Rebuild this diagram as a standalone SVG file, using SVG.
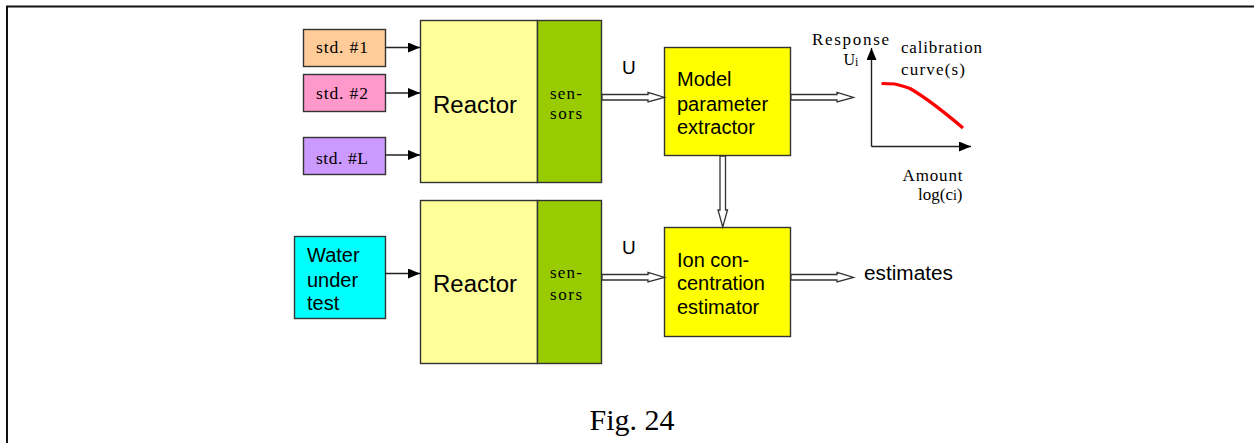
<svg xmlns="http://www.w3.org/2000/svg" width="1254" height="443" viewBox="0 0 1254 443">
<style>
.box{stroke:#333;stroke-width:1.4}
.sans{font-family:"Liberation Sans",Arial,sans-serif;fill:#000}
.serif{font-family:"Liberation Serif","Times New Roman",serif;fill:#000}
.thin{stroke:#222;stroke-width:1.4;fill:none}
.hollow{fill:#fff;stroke:#333;stroke-width:1.3;stroke-linejoin:miter}
</style>
<defs>
<marker id="ah" markerWidth="12" markerHeight="10" refX="12" refY="5" orient="auto" markerUnits="userSpaceOnUse">
<path d="M0,0 L12,5 L0,10 Z" fill="#000"/>
</marker>
</defs>
<rect width="1254" height="443" fill="#fff"/>
<path d="M7,443 V6.5 H1254" fill="none" stroke="#111" stroke-width="2"/>

<g id="std1"><rect class="box" x="303.5" y="29.5" width="82" height="37" fill="#FFCC99"/><text class="serif" x="316" y="53" font-size="17.5" textLength="52" lengthAdjust="spacing">std. #1</text></g>
<g id="std2"><rect class="box" x="303.5" y="74.5" width="82" height="37" fill="#FF99CC"/><text class="serif" x="316" y="98.5" font-size="17.5" textLength="52" lengthAdjust="spacing">std. #2</text></g>
<g id="stdL"><rect class="box" x="303.5" y="137.5" width="82" height="37" fill="#CC99FF"/><text class="serif" x="316" y="163.5" font-size="17.5" textLength="52" lengthAdjust="spacing">std. #L</text></g>

<g id="reactor1"><rect class="box" x="420.5" y="20.5" width="117" height="162" fill="#FFFF99"/><text class="sans" x="433" y="112.5" font-size="23.5" textLength="84" lengthAdjust="spacingAndGlyphs">Reactor</text></g>
<g id="sensors1"><rect class="box" x="537.5" y="20.5" width="64" height="162" fill="#99CC00"/><text class="serif" x="550" y="99" font-size="17" textLength="32" lengthAdjust="spacing">sen-</text><text class="serif" x="550" y="119" font-size="17" textLength="32" lengthAdjust="spacing">sors</text></g>

<g id="water"><rect class="box" x="294.5" y="236.5" width="91" height="82" fill="#00FFFF"/><text class="sans" font-size="20"><tspan x="307" y="261.5">Water</tspan><tspan x="307" y="286.5">under</tspan><tspan x="307" y="310">test</tspan></text></g>

<g id="reactor2"><rect class="box" x="420.5" y="200.5" width="117" height="163" fill="#FFFF99"/><text class="sans" x="433" y="292" font-size="23.5" textLength="84" lengthAdjust="spacingAndGlyphs">Reactor</text></g>
<g id="sensors2"><rect class="box" x="537.5" y="200.5" width="64" height="163" fill="#99CC00"/><text class="serif" x="550" y="277.5" font-size="17" textLength="32" lengthAdjust="spacing">sen-</text><text class="serif" x="550" y="300" font-size="17" textLength="32" lengthAdjust="spacing">sors</text></g>

<g id="model"><rect class="box" x="664.5" y="47.5" width="126" height="108" fill="#FFFF00"/><text class="sans" font-size="20"><tspan x="677" y="85.5">Model</tspan><tspan x="677" y="110.5">parameter</tspan><tspan x="677" y="134">extractor</tspan></text></g>

<g id="ion"><rect class="box" x="664.5" y="227.5" width="126" height="109" fill="#FFFF00"/><text class="sans" font-size="20"><tspan x="677" y="266.5">Ion con-</tspan><tspan x="677" y="290">centration</tspan><tspan x="677" y="313.5">estimator</tspan></text></g>

<g id="labels">
<text class="sans" x="622" y="73.5" font-size="19">U</text>
<text class="sans" x="622" y="253.5" font-size="19">U</text>
<text class="sans" x="864" y="280" font-size="20" textLength="89" lengthAdjust="spacingAndGlyphs">estimates</text>
<text class="serif" x="632" y="430" font-size="30" text-anchor="middle">Fig. 24</text>
</g>

<g id="graph">
<text class="serif" x="812" y="45" font-size="17" textLength="77" lengthAdjust="spacing">Response</text>
<text class="serif" x="843.5" y="64.5" font-size="16">U<tspan font-size="12" dy="1">i</tspan></text>
<text class="serif" x="901" y="53" font-size="17" textLength="81" lengthAdjust="spacing">calibration</text>
<text class="serif" x="901" y="75" font-size="17" textLength="64" lengthAdjust="spacing">curve(s)</text>
<text class="serif" x="902.5" y="181" font-size="17" textLength="60" lengthAdjust="spacing">Amount</text>
<text class="serif" x="918" y="200" font-size="17">log(c<tspan font-size="14">i</tspan>)</text>
<line class="thin" x1="871.5" y1="146.5" x2="871.5" y2="48" marker-end="url(#ah)"/>
<line class="thin" x1="871.5" y1="146.5" x2="971" y2="146.5" marker-end="url(#ah)"/>
<path d="M881.5,83.5 L895,84 Q903,86 910,88.5 Q930,100 963,128" fill="none" stroke="#FF0000" stroke-width="3.2"/>
</g>

<g id="connectors">
<line class="thin" x1="385.5" y1="47.5" x2="420" y2="47.5" marker-end="url(#ah)"/>
<line class="thin" x1="385.5" y1="93" x2="420" y2="93" marker-end="url(#ah)"/>
<line class="thin" x1="385.5" y1="155" x2="420" y2="155" marker-end="url(#ah)"/>
<line class="thin" x1="385.5" y1="273.5" x2="420" y2="273.5" marker-end="url(#ah)"/>
<polygon class="hollow" points="602,94.5 648,94.5 648,92.5 664.5,97.5 648,102 648,100 602,100"/>
<polygon class="hollow" points="791,94.5 837,94.5 837,92.5 853.5,97.5 837,102 837,100 791,100"/>
<polygon class="hollow" points="602,274.5 648,274.5 648,272.5 664.5,277.5 648,282 648,280 602,280"/>
<polygon class="hollow" points="791,274.5 837,274.5 837,272.5 853.5,277.5 837,282 837,280 791,280"/>
<polygon class="hollow" points="720,156 725.5,156 725.5,210 727.5,210 722.75,227 718,210 720,210"/>
</g>
</svg>
